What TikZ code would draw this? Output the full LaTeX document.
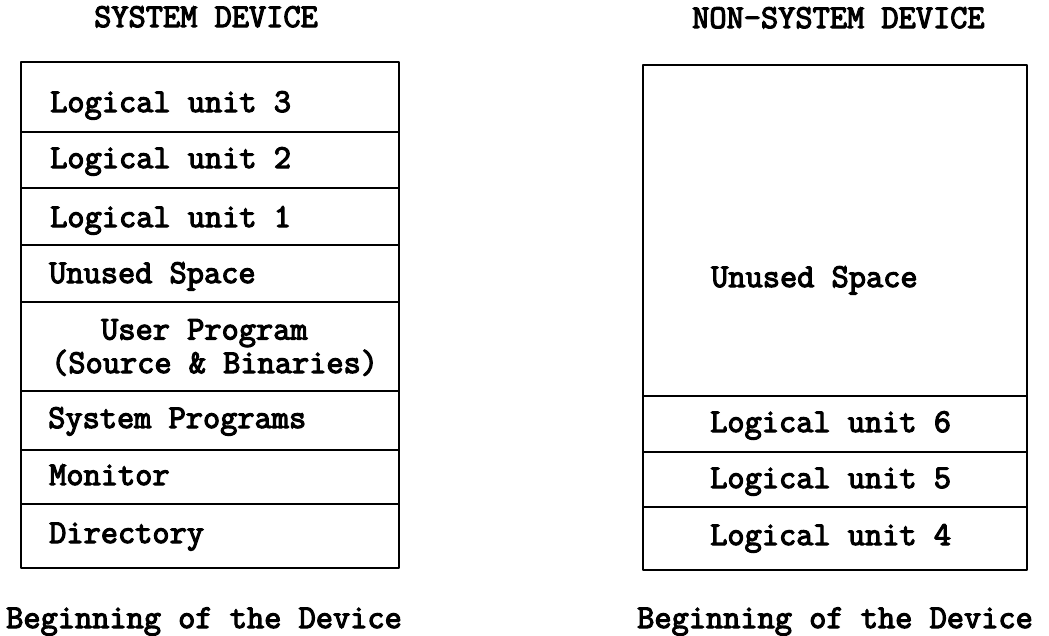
\documentclass[tikz,border=0pt]{standalone}
\usepackage{fontspec}
\newfontfamily\cour[FakeBold=3.5]{Latin Modern Mono}
\begin{document}
\begin{tikzpicture}[x=1pt,y=-1pt,
  every node/.style={inner sep=0pt,anchor=base west,font=\cour\fontsize{33.4}{38}\selectfont},
  frame/.style={line width=2.4pt,line join=round}]
\useasboundingbox (0,0) rectangle (1049,635);
% titles
\node (t1) at (94,27) {SYSTEM DEVICE};
\node (t2) at (692,28) {NON-SYSTEM DEVICE};
% left device
\draw[frame] (21,62) rectangle (399,568);
\foreach \yy in {132,188,245,302,391,450,504} \draw[frame] (21,\yy) -- (399,\yy);
\node (lu3) at (50,112) {Logical unit 3};
\node (lu2) at (50,168) {Logical unit 2};
\node (lu1) at (50,227) {Logical unit 1};
\node (us1) at (49,283) {Unused Space};
\node (up) at (101,339.5) {User Program};
\node (sb) at (51,373) {(Source \& Binaries)};
\node (sp) at (48,428) {System Programs};
\node (mo) at (49,485) {Monitor};
\node (di) at (49,543) {Directory};
\node (b1) at (6,628) {Beginning of the Device};
% right device
\draw[frame] (643,65) rectangle (1027,570);
\foreach \yy in {396,452,507} \draw[frame] (643,\yy) -- (1027,\yy);
\node (us2) at (711,287) {Unused Space};
\node (lu6) at (710,432) {Logical unit 6};
\node (lu5) at (710,488) {Logical unit 5};
\node (lu4) at (710,545) {Logical unit 4};
\node (b2) at (637,628) {Beginning of the Device};
\end{tikzpicture}
\end{document}
